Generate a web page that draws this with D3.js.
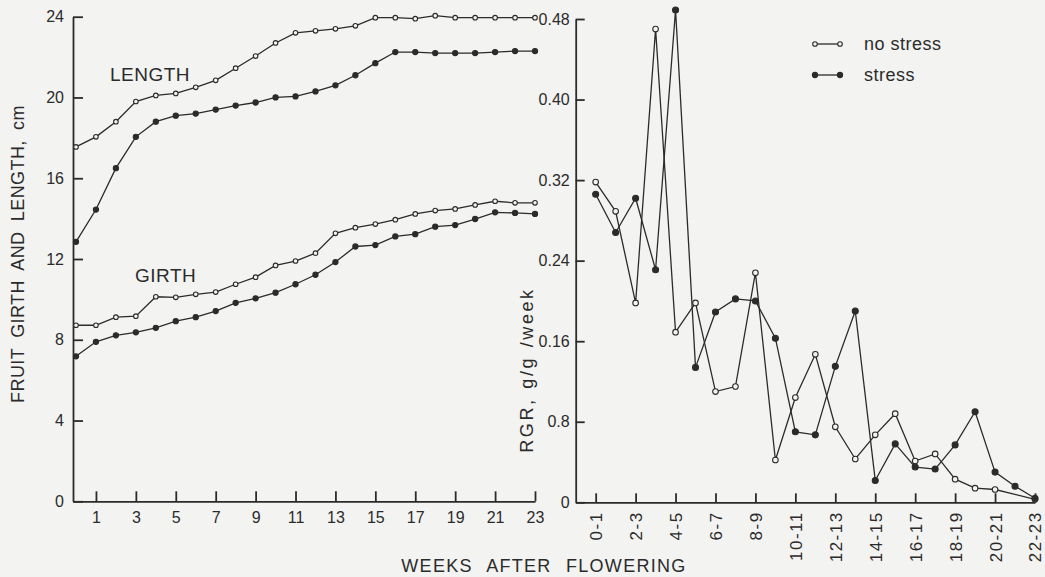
<!DOCTYPE html>
<html>
<head>
<meta charset="utf-8">
<script src="https://cdn.jsdelivr.net/npm/d3@7"></script>
<style>
  body { margin: 0; background: #f3f3f1; }
  svg { display: block; font-family: "Liberation Sans", Arial, sans-serif; }
  .axis path, .axis line { stroke: #2b2b2b; stroke-width: 1.8; }
  .axis text { fill: #2b2b2b; font-size: 16px; font-family: "Liberation Sans", Arial, sans-serif; }
</style>
</head>
<body>
<div id="chart"></div>
<script>
var width = 1045
var height = 577
var ink = '#2b2b2b'
var paper = '#f3f3f1'

// left panel: fruit girth and length (cm) by week after flowering
var weeks = [0, 1, 2, 3, 4, 5, 6, 7, 8, 9, 10, 11, 12, 13, 14, 15, 16, 17, 18, 19, 20, 21, 22, 23]
var lengthNoStress = [17.55, 18.05, 18.8, 19.8, 20.1, 20.2, 20.5, 20.85, 21.45, 22.05, 22.7, 23.2, 23.3, 23.4, 23.55, 23.95, 23.95, 23.9, 24.05, 23.95, 23.95, 23.95, 23.95, 23.95]
var lengthStress = [12.85, 14.45, 16.5, 18.05, 18.8, 19.1, 19.2, 19.4, 19.6, 19.75, 20.0, 20.05, 20.3, 20.6, 21.1, 21.7, 22.25, 22.25, 22.2, 22.2, 22.2, 22.25, 22.3, 22.3]
var girthNoStress = [8.72, 8.72, 9.12, 9.17, 10.13, 10.1, 10.25, 10.36, 10.75, 11.1, 11.68, 11.9, 12.29, 13.27, 13.55, 13.73, 13.95, 14.23, 14.4, 14.48, 14.68, 14.86, 14.78, 14.78]
var girthStress = [7.18, 7.9, 8.22, 8.37, 8.59, 8.92, 9.12, 9.42, 9.83, 10.05, 10.33, 10.75, 11.22, 11.85, 12.62, 12.69, 13.12, 13.23, 13.6, 13.68, 13.98, 14.31, 14.28, 14.23]
var leftYTicks = [0, 4, 8, 12, 16, 20, 24]
var leftXTicks = [1, 3, 5, 7, 9, 11, 13, 15, 17, 19, 21, 23]

// right panel: relative growth rate per weekly interval
var intervals = ['0-1', '1-2', '2-3', '3-4', '4-5', '5-6', '6-7', '7-8', '8-9', '9-10', '10-11', '11-12',
  '12-13', '13-14', '14-15', '15-16', '16-17', '17-18', '18-19', '19-20', '20-21', '21-22', '22-23']
var rgrNoStress = [0.318, 0.289, 0.198, 0.470, 0.169, 0.198, 0.110, 0.115, 0.228, 0.042, 0.104, 0.147,
  0.075, 0.043, 0.067, 0.088, 0.041, 0.048, 0.023, 0.014, 0.0127, null, 0.003]
var rgrStress = [0.306, 0.268, 0.302, 0.231, 0.489, 0.134, 0.189, 0.202, 0.200, 0.163, 0.070, 0.067,
  0.135, 0.190, 0.0217, 0.058, 0.035, 0.033, 0.057, 0.090, 0.030, 0.016, 0.004]
var rgrTicks = [0, 0.08, 0.16, 0.24, 0.32, 0.40, 0.48]
var rgrTickLabels = ['0', '0.8', '0.16', '0.24', '0.32', '0.40', '0.48']
var rgrXTicks = ['0-1', '2-3', '4-5', '6-7', '8-9', '10-11', '12-13', '14-15', '16-17', '18-19', '20-21', '22-23']

var svg = d3
  .select('#chart')
  .append('svg')
  .attr('width', width)
  .attr('height', height)

svg.append('rect').attr('width', width).attr('height', height).attr('fill', paper)

// scales
var xLeft = d3.scaleLinear().domain([-0.15, 23]).range([73, 535])
var yLeft = d3.scaleLinear().domain([0, 24]).range([501.3, 16.7])

var xRight = d3.scaleLinear().domain([-1, 22]).range([575.7, 1035])
var yRight = d3.scaleLinear().domain([0, 0.48]).range([502.3, 19])

// axes, ticks point inward
svg
  .append('g')
  .attr('class', 'axis')
  .attr('transform', 'translate(73,0)')
  .call(d3.axisLeft(yLeft).tickValues(leftYTicks).tickSizeInner(-10).tickSizeOuter(0).tickPadding(9))

svg
  .append('g')
  .attr('class', 'axis')
  .attr('transform', 'translate(0,501.3)')
  .call(d3.axisBottom(xLeft).tickValues(leftXTicks).tickSizeInner(-10).tickSizeOuter(0).tickPadding(10))

svg
  .append('g')
  .attr('class', 'axis')
  .attr('transform', 'translate(575.7,0)')
  .call(
    d3
      .axisLeft(yRight)
      .tickValues(rgrTicks)
      .tickFormat((d, i) => rgrTickLabels[i])
      .tickSizeInner(-9)
      .tickSizeOuter(0)
      .tickPadding(6)
  )

var rightX = svg
  .append('g')
  .attr('class', 'axis')
  .attr('transform', 'translate(0,502.3)')
  .call(
    d3
      .axisBottom(xRight)
      .tickValues(rgrXTicks.map(d => intervals.indexOf(d)))
      .tickFormat(i => intervals[i])
      .tickSizeInner(-9)
      .tickSizeOuter(0)
  )

rightX
  .selectAll('.tick text')
  .attr('transform', 'rotate(-90)')
  .attr('text-anchor', 'end')
  .attr('x', -9)
  .attr('y', 0)
  .attr('dy', '0.35em')
  .style('font-size', '17px')
  .style('letter-spacing', '1.5px')

// lines and markers
function drawSeries(xs, ys, xScale, yScale, filled, r) {
  var pts = xs
    .map((x, i) => ({ x: x, y: ys[i] }))
    .filter(d => d.y !== null)

  var line = d3
    .line()
    .x(d => xScale(d.x))
    .y(d => yScale(d.y))

  svg
    .append('path')
    .datum(pts)
    .attr('d', line)
    .attr('fill', 'none')
    .attr('stroke', ink)
    .attr('stroke-width', 1.3)

  svg
    .append('g')
    .selectAll('circle')
    .data(pts)
    .enter()
    .append('circle')
    .attr('cx', d => xScale(d.x))
    .attr('cy', d => yScale(d.y))
    .attr('r', r)
    .attr('fill', filled ? ink : paper)
    .attr('stroke', ink)
    .attr('stroke-width', 1.1)
}

drawSeries(weeks, lengthNoStress, xLeft, yLeft, false, 2.3)
drawSeries(weeks, lengthStress, xLeft, yLeft, true, 2.6)
drawSeries(weeks, girthNoStress, xLeft, yLeft, false, 2.3)
drawSeries(weeks, girthStress, xLeft, yLeft, true, 2.6)

var idx = intervals.map((d, i) => i)
drawSeries(idx, rgrNoStress, xRight, yRight, false, 2.8)
drawSeries(idx, rgrStress, xRight, yRight, true, 3)

// labels
function label(txt, x, y, size, opts) {
  opts = opts || {}
  var t = svg
    .append('text')
    .text(txt)
    .attr('x', x)
    .attr('y', y)
    .attr('fill', ink)
    .style('font-size', size + 'px')
    .style('letter-spacing', (opts.ls || 0) + 'px')
    .style('word-spacing', (opts.ws || 0) + 'px')
    .attr('text-anchor', opts.anchor || 'start')
  if (opts.rotate) t.attr('transform', 'rotate(-90,' + x + ',' + y + ')')
  return t
}

label('LENGTH', 110, 81, 19, { ls: 0.5 })
label('GIRTH', 135, 282, 19, { ls: 0.5 })

label('FRUIT GIRTH AND LENGTH, cm', 24, 254, 18, { ls: 0.4, ws: 5, anchor: 'middle', rotate: true })
label('RGR,  g/g /week', 533, 370, 18, { ls: 2.6, ws: 1, anchor: 'middle', rotate: true })
label('WEEKS AFTER FLOWERING', 544, 572, 18, { ls: 1.3, ws: 8, anchor: 'middle' })

// legend
var legend = svg.append('g')
var legendItems = [{ name: 'no stress', filled: false, y: 44 }, { name: 'stress', filled: true, y: 75 }]
legendItems.forEach(function(d) {
  legend
    .append('line')
    .attr('x1', 815)
    .attr('x2', 840)
    .attr('y1', d.y)
    .attr('y2', d.y)
    .attr('stroke', ink)
    .attr('stroke-width', 1.3)
  ;[815, 840].forEach(function(cx) {
    legend
      .append('circle')
      .attr('cx', cx)
      .attr('cy', d.y)
      .attr('r', d.filled ? 2.6 : 2.3)
      .attr('fill', d.filled ? ink : paper)
      .attr('stroke', ink)
      .attr('stroke-width', 1.1)
  })
  legend
    .append('text')
    .text(d.name)
    .attr('x', 864)
    .attr('y', d.y + 6)
    .attr('fill', ink)
    .style('font-size', '18px')
    .style('letter-spacing', '0.5px')
})
</script>
</body>
</html>
